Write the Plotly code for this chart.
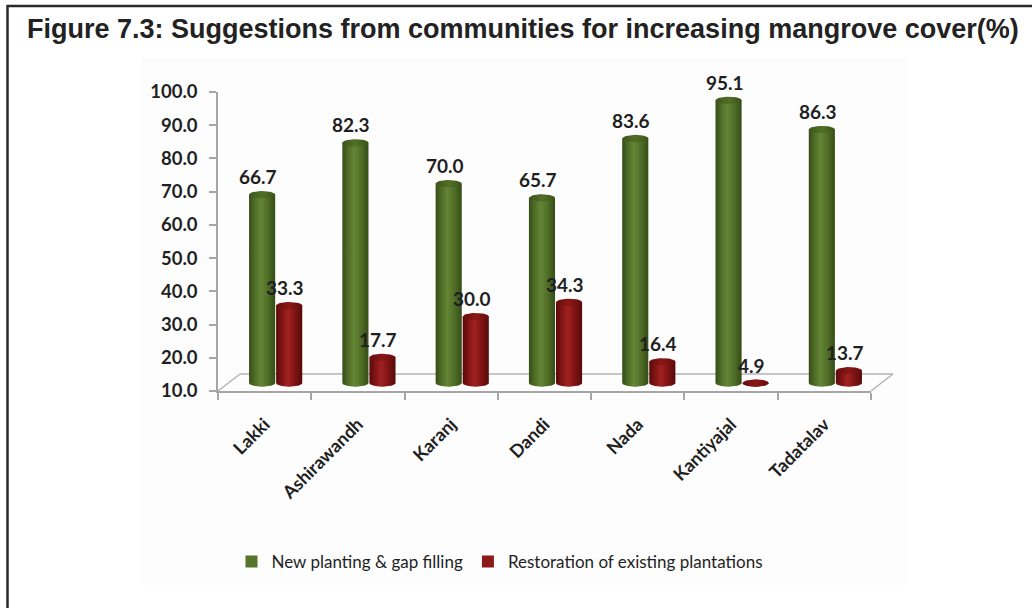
import numpy as np
import plotly.graph_objects as go

# ---- data -------------------------------------------------------------
villages = ["Lakki", "Ashirawandh", "Karanj", "Dandi", "Nada", "Kantiyajal", "Tadatalav"]
new_planting = [66.7, 82.3, 70.0, 65.7, 83.6, 95.1, 86.3]
restoration = [33.3, 17.7, 30.0, 34.3, 16.4, 4.9, 13.7]
series_names = ["New planting & gap filling", "Restoration of existing plantations"]
y_ticks = [10, 20, 30, 40, 50, 60, 70, 80, 90, 100]

# ---- page geometry (pixels) ------------------------------------------
W, H = 1032, 608
PL, PR, PT, PB = 218, 871, 92, 391          # front plane of the plot
Y_MIN, Y_MAX = 10, 100
X_MIN, X_MAX = -0.5, len(villages) - 0.5

# pseudo-3D depth: bars stand on a mid-depth plane, floor recedes further
DX, DY = 0.118, 2.4                          # mid-depth shift (axis units)
HALF_W = 0.14                                # cylinder half width
OFFSET = 0.145                               # series offset from category
RY = 1.1                                     # ellipse vertical radius

GREEN = dict(body=[[0, "#364d17"], [0.22, "#4f6d27"], [0.45, "#648534"],
                   [0.72, "#506e27"], [1, "#354c17"]],
             cap=[[0, "#3c551b"], [0.5, "#517026"], [1, "#3b541a"]],
             solid="#56752b")
RED = dict(body=[[0, "#560a0a"], [0.22, "#821414"], [0.45, "#a02222"],
                 [0.72, "#801313"], [1, "#540a0a"]],
           cap=[[0, "#660d0d"], [0.5, "#8a1717"], [1, "#640c0c"]],
           solid="#8c1a1a")

FONT = "Lato, 'Open Sans', sans-serif"
TEXT = "#1f1f1f"


def paper_x(px):
    return (px - PL) / (PR - PL)


def paper_y(py):
    return (PB - py) / (PB - PT)


def cylinder(xc, value, style):
    """Body and top cap of one cylinder drawn on the mid-depth axes."""
    top = max(value, Y_MIN)
    th = np.linspace(np.pi, 2 * np.pi, 40)
    bx = list(xc + HALF_W * np.cos(th)) + [xc + HALF_W, xc - HALF_W, xc - HALF_W]
    by = list(Y_MIN + RY * np.sin(th)) + [top, top, Y_MIN]
    body = go.Scatter(
        x=bx, y=by, xaxis="x2", yaxis="y2", mode="lines", fill="toself",
        line=dict(width=0), fillgradient=dict(type="horizontal", colorscale=style["body"]),
        showlegend=False, hoverinfo="skip")
    tc = np.linspace(0, 2 * np.pi, 60)
    cap = go.Scatter(
        x=xc + HALF_W * np.cos(tc), y=top + RY * np.sin(tc), xaxis="x2", yaxis="y2",
        mode="lines", fill="toself", line=dict(width=0),
        fillgradient=dict(type="horizontal", colorscale=style["cap"]),
        showlegend=False, hoverinfo="skip")
    return [body, cap]


fig = go.Figure()
annotations = []
for i, (g, r) in enumerate(zip(new_planting, restoration)):
    for xc, v, style in ((i - OFFSET, g, GREEN), (i + OFFSET, r, RED)):
        for tr in cylinder(xc, v, style):
            fig.add_trace(tr)
        annotations.append(dict(
            x=xc, y=max(v, Y_MIN), xref="x2", yref="y2", text=f"{v:.1f}",
            showarrow=False, yshift=18, xshift=-4,
            font=dict(family=FONT, size=19, color=TEXT, weight="bold")))

# legend entries
for name, style in zip(series_names, (GREEN, RED)):
    fig.add_trace(go.Scatter(
        x=[None], y=[None], mode="markers", name=name,
        marker=dict(symbol="square", size=12, color=style["solid"])))

# floor of the 3D box (front edge is the x-axis line)
floor_col = "#b3b3b3"
bx0, by0 = PL + 22, PB - 17
bx1 = PR + 22
shapes = [
    # chart background panel
    dict(type="rect", xref="paper", yref="paper", layer="below",
         x0=paper_x(141), x1=paper_x(908), y0=paper_y(585), y1=paper_y(57),
         fillcolor="#fdfdfd", line=dict(width=0)),
    dict(type="line", xref="paper", yref="paper", x0=paper_x(bx0), y0=paper_y(by0),
         x1=paper_x(bx1), y1=paper_y(by0), line=dict(color=floor_col, width=1.5), layer="below"),
    dict(type="line", xref="paper", yref="paper", x0=0, y0=0,
         x1=paper_x(bx0), y1=paper_y(by0), line=dict(color=floor_col, width=1.5), layer="below"),
    dict(type="line", xref="paper", yref="paper", x0=1, y0=0,
         x1=paper_x(bx1), y1=paper_y(by0), line=dict(color=floor_col, width=1.5), layer="below"),
    # figure frame
    dict(type="line", xref="paper", yref="paper", x0=paper_x(7), y0=paper_y(6),
         x1=paper_x(1032), y1=paper_y(6), line=dict(color="#2a2a2a", width=2.5)),
    dict(type="line", xref="paper", yref="paper", x0=paper_x(7.5), y0=paper_y(5),
         x1=paper_x(7.5), y1=paper_y(608), line=dict(color="#2a2a2a", width=2.5)),
]

axis_col = "#a6a6a6"
fig.update_layout(
    width=W, height=H,
    margin=dict(l=PL, r=W - PR, t=PT, b=H - PB, pad=0),
    paper_bgcolor="white", plot_bgcolor="rgba(0,0,0,0)",
    title=dict(text="<b>Figure 7.3: Suggestions from communities for increasing mangrove cover(%)</b>",
               x=27 / W, xanchor="left", xref="container",
               y=1 - 29 / H, yanchor="middle", yref="container",
               font=dict(family="'Liberation Sans', Arial, sans-serif", size=27, color="#222222")),
    xaxis=dict(range=[X_MIN, X_MAX], tickmode="array", tickvals=list(range(len(villages))),
               ticktext=villages, ticks="", tickangle=-45, ticklabelstandoff=14,
               showline=True, linecolor=axis_col, linewidth=1.5, showgrid=False, zeroline=False,
               minor=dict(tickmode="linear", tick0=X_MIN, dtick=1, ticks="outside",
                          ticklen=7, tickcolor=axis_col, tickwidth=1.5),
               tickfont=dict(family=FONT, size=18, color=TEXT, weight="bold")),
    yaxis=dict(range=[Y_MIN, Y_MAX], tickmode="array", tickvals=y_ticks, tickformat=".1f",
               ticks="outside", ticklen=7, tickcolor=axis_col, tickwidth=1.5,
               ticklabelstandoff=8,
               showline=True, linecolor=axis_col, linewidth=1.5, showgrid=False, zeroline=False,
               tickfont=dict(family=FONT, size=18.5, color=TEXT, weight="bold")),
    xaxis2=dict(range=[X_MIN - DX, X_MAX - DX], overlaying="x", visible=False),
    yaxis2=dict(range=[Y_MIN - DY, Y_MAX - DY], overlaying="y", visible=False),
    legend=dict(orientation="h", x=paper_x(500), y=paper_y(562), xanchor="center",
                yanchor="middle", font=dict(family=FONT, size=17, color=TEXT),
                bgcolor="rgba(0,0,0,0)", itemwidth=30),
    shapes=shapes,
    annotations=annotations,
)

fig.write_html("out.html")
